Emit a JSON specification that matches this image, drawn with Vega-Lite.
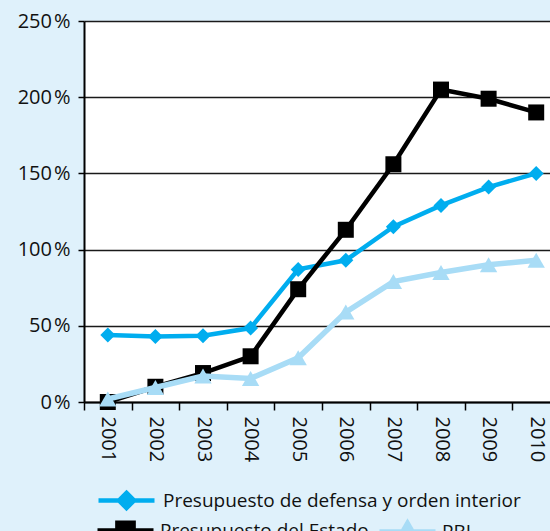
{
  "$schema": "https://vega.github.io/schema/vega-lite/v6.json",
  "width": 476,
  "height": 381,
  "autosize": {"type": "none"},
  "padding": {"left": 84, "top": 21, "right": 0, "bottom": 129},
  "background": "#dff1fb",
  "config": {
    "view": {"fill": "white", "stroke": null},
    "font": "Open Sans",
    "axis": {"labelColor": "#111111", "labelFont": "Open Sans", "domainColor": "#000000", "tickColor": "#000000", "title": null}
  },
  "data": {
    "values": [
      {"year": "2001", "serie": "Presupuesto de defensa y orden interior", "value": 44},
      {"year": "2002", "serie": "Presupuesto de defensa y orden interior", "value": 43},
      {"year": "2003", "serie": "Presupuesto de defensa y orden interior", "value": 43.5},
      {"year": "2004", "serie": "Presupuesto de defensa y orden interior", "value": 48.5},
      {"year": "2005", "serie": "Presupuesto de defensa y orden interior", "value": 87},
      {"year": "2006", "serie": "Presupuesto de defensa y orden interior", "value": 93},
      {"year": "2007", "serie": "Presupuesto de defensa y orden interior", "value": 115},
      {"year": "2008", "serie": "Presupuesto de defensa y orden interior", "value": 129},
      {"year": "2009", "serie": "Presupuesto de defensa y orden interior", "value": 141},
      {"year": "2010", "serie": "Presupuesto de defensa y orden interior", "value": 150},
      {"year": "2001", "serie": "Presupuesto del Estado", "value": 0},
      {"year": "2002", "serie": "Presupuesto del Estado", "value": 10},
      {"year": "2003", "serie": "Presupuesto del Estado", "value": 19},
      {"year": "2004", "serie": "Presupuesto del Estado", "value": 30},
      {"year": "2005", "serie": "Presupuesto del Estado", "value": 74},
      {"year": "2006", "serie": "Presupuesto del Estado", "value": 113},
      {"year": "2007", "serie": "Presupuesto del Estado", "value": 156},
      {"year": "2008", "serie": "Presupuesto del Estado", "value": 205},
      {"year": "2009", "serie": "Presupuesto del Estado", "value": 199},
      {"year": "2010", "serie": "Presupuesto del Estado", "value": 190},
      {"year": "2001", "serie": "PBI", "value": 2},
      {"year": "2002", "serie": "PBI", "value": 9.5},
      {"year": "2003", "serie": "PBI", "value": 17},
      {"year": "2004", "serie": "PBI", "value": 15.5},
      {"year": "2005", "serie": "PBI", "value": 29},
      {"year": "2006", "serie": "PBI", "value": 59},
      {"year": "2007", "serie": "PBI", "value": 79},
      {"year": "2008", "serie": "PBI", "value": 85},
      {"year": "2009", "serie": "PBI", "value": 90},
      {"year": "2010", "serie": "PBI", "value": 93}
    ]
  },
  "encoding": {
    "x": {
      "field": "year",
      "type": "ordinal",
      "scale": {"type": "band", "paddingInner": 0, "paddingOuter": 0},
      "axis": {
        "labelAngle": 90,
        "labelFontSize": 20,
        "tickSize": 8,
        "tickWidth": 1.5,
        "tickBand": "extent",
        "domainWidth": 2,
        "labelPadding": 6,
        "grid": false
      }
    },
    "y": {
      "field": "value",
      "type": "quantitative",
      "scale": {"domain": [0, 250], "nice": false},
      "axis": {
        "values": [0, 50, 100, 150, 200, 250],
        "labelExpr": "datum.value + '\u200a%'",
        "labelFontSize": 20,
        "tickSize": 6,
        "tickWidth": 1.5,
        "domainWidth": 2,
        "labelPadding": 8,
        "grid": true,
        "gridColor": "#1a1a1a",
        "gridWidth": 1.3,
        "gridOpacity": 1
      }
    }
  },
  "layer": [
    {
      "transform": [{"filter": "datum.serie === 'Presupuesto de defensa y orden interior'"}],
      "encoding": {
        "color": {
          "field": "serie",
          "type": "nominal",
          "scale": {"domain": ["Presupuesto de defensa y orden interior"], "range": ["#00adef"]},
          "legend": {
            "orient": "none",
            "legendX": 12,
            "legendY": 449,
            "title": null,
            "direction": "horizontal",
            "labelFontSize": 19,
            "labelColor": "#111111",
            "labelLimit": 0,
            "labelOffset": 6,
            "symbolSize": 3136,
            "symbolType": "M-1,0H1M0,-0.27L0.27,0L0,0.27L-0.27,0Z",
            "symbolStrokeWidth": 4.5,
            "symbolFillColor": "#00adef",
            "symbolStrokeColor": "#00adef",
            "symbolOpacity": 1
          }
        }
      },
      "layer": [
        {"mark": {"type": "line", "strokeWidth": 4.5}},
        {"mark": {"type": "point", "shape": "diamond", "filled": true, "size": 225, "opacity": 1}}
      ]
    },
    {
      "transform": [{"filter": "datum.serie !== 'Presupuesto de defensa y orden interior'"}],
      "encoding": {
        "color": {
          "field": "serie",
          "type": "nominal",
          "scale": {"domain": ["Presupuesto del Estado", "PBI"], "range": ["#000000", "#a8dcf6"]},
          "legend": {
            "orient": "none",
            "legendX": 11,
            "legendY": 479,
            "title": null,
            "direction": "horizontal",
            "labelFontSize": 19,
            "labelColor": "#111111",
            "labelLimit": 0,
            "labelOffset": 4,
            "columnPadding": 0,
            "symbolSize": 3136,
            "symbolStrokeWidth": 5,
            "symbolOpacity": 1,
            "encode": {
              "symbols": {
                "update": {
                  "shape": {"signal": "datum.value === 'PBI' ? 'M-1,0H1M0,-0.3L0.3,0.22H-0.3Z' : 'M-1,0H1M-0.28,-0.28H0.28V0.28H-0.28Z'"},
                  "fill": {"signal": "datum.value === 'PBI' ? '#a8dcf6' : '#000000'"},
                  "stroke": {"signal": "datum.value === 'PBI' ? '#a8dcf6' : '#000000'"},
                  "fillOpacity": {"value": 1},
                  "strokeOpacity": {"value": 1}
                }
              }
            }
          }
        }
      },
      "layer": [
        {
          "transform": [{"filter": "datum.serie === 'Presupuesto del Estado'"}],
          "layer": [
            {"mark": {"type": "line", "strokeWidth": 4.5}},
            {"mark": {"type": "point", "shape": "square", "filled": true, "size": 256, "opacity": 1}}
          ]
        },
        {
          "transform": [{"filter": "datum.serie === 'PBI'"}],
          "layer": [
            {"mark": {"type": "line", "strokeWidth": 5.5}},
            {"mark": {"type": "point", "shape": "triangle-up", "filled": true, "size": 300, "opacity": 1}}
          ]
        }
      ]
    }
  ],
  "resolve": {"scale": {"color": "independent"}}
}
